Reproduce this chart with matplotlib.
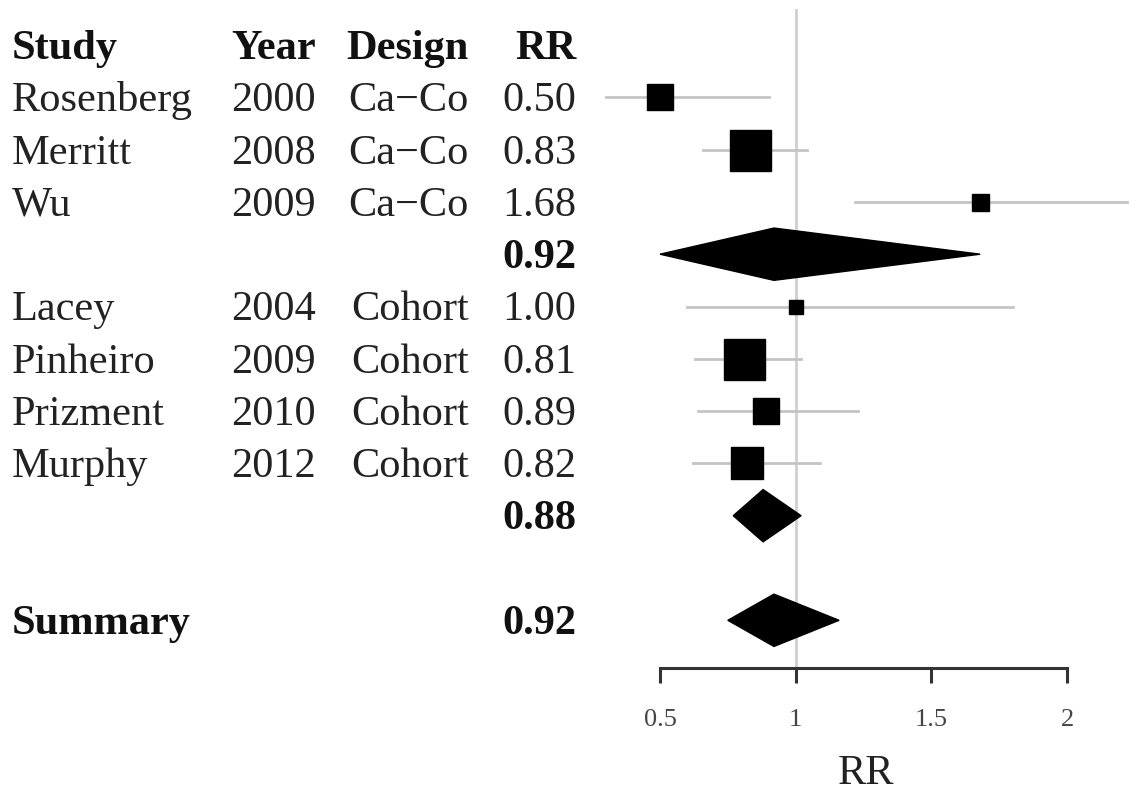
import matplotlib

matplotlib.use("Agg")
import matplotlib.pyplot as plt  # noqa: E402
from matplotlib.transforms import blended_transform_factory  # noqa: E402

studies = ["Rosenberg", "Merritt", "Wu", "Lacey", "Pinheiro", "Prizment", "Murphy"]
years = ["2000", "2008", "2009", "2004", "2009", "2010", "2012"]
designs = ["Ca\u2212Co", "Ca\u2212Co", "Ca\u2212Co", "Cohort", "Cohort", "Cohort", "Cohort"]
rr = [0.50, 0.83, 1.68, 1.00, 0.81, 0.89, 0.82]
ci_low = [0.30, 0.66, 1.22, 0.60, 0.63, 0.64, 0.62]
ci_high = [0.90, 1.04, 2.22, 1.80, 1.02, 1.23, 1.09]
weights = [27, 41, 17, 14, 41, 27, 32]

# pooled estimates: (label, estimate, lower, upper)
sub_labels = ["0.92", "0.88", "0.92"]
sub_rr = [0.92, 0.88, 0.92]
sub_low = [0.50, 0.77, 0.75]
sub_high = [1.68, 1.02, 1.16]

study_rows = [1, 2, 3, 5, 6, 7, 8]
sub_rows = [4, 9, 11]

FONT = "Liberation Serif"
BIG = 30.5
DY = 0.07  # text sits a touch below the row centre

fig = plt.figure(figsize=(11.35, 7.93), dpi=100)
ax = fig.add_axes([0, 0, 1, 1])
px_per_unit = 407 / 1.5
ax.set_xlim(0.5 - 660 / px_per_unit, 0.5 + 475 / px_per_unit)
row_h = 52.3
ax.set_ylim((793 - 45) / row_h, -45 / row_h)

# reference line at RR = 1
ax.plot([1, 1], [(10 - 45) / row_h, 11.91], color="#d2d2d2", lw=2.2, zorder=1)

for row, est, lo, hi, w in zip(study_rows, rr, ci_low, ci_high, weights):
    ax.plot([lo, hi], [row, row], color="#c4c4c4", lw=2.0, zorder=2)
    ax.plot(est, row, marker="s", color="black", markersize=w * 0.72, zorder=3)

for row, est, lo, hi in zip(sub_rows, sub_rr, sub_low, sub_high):
    ax.fill([lo, est, hi, est], [row, row - 0.5, row, row + 0.5], color="black", zorder=3)

# axis
for side in ["top", "right", "left"]:
    ax.spines[side].set_visible(False)
ax.spines["bottom"].set_position(("data", 11.91))
ax.spines["bottom"].set_bounds(0.5, 2)
ax.spines["bottom"].set_color("#333333")
ax.spines["bottom"].set_linewidth(2.2)
ax.set_yticks([])
ax.set_xticks([0.5, 1, 1.5, 2])
ax.set_xticklabels(["0.5", "1", "1.5", "2"])
ax.tick_params(axis="x", direction="out", length=10.5, width=2.2, color="#333333",
               pad=19, labelsize=19, labelcolor="#444444")
for lab in ax.get_xticklabels():
    lab.set_fontfamily(FONT)
ax.text(1.26, 13.93, "RR", ha="center", va="center", fontsize=BIG, family=FONT, color="#222222")

# table columns
tr = blended_transform_factory(ax.transAxes, ax.transData)
cols = [(12 / 1135, "left"), (231 / 1135, "left"), (469 / 1135, "right"), (576 / 1135, "right")]
headers = ["Study", "Year", "Design", "RR"]
for (x, ha), h in zip(cols, headers):
    ax.text(x, DY, h, transform=tr, ha=ha, va="center", fontsize=BIG, family=FONT,
            fontweight="bold", color="#111111")

for row, name, yr, des, est in zip(study_rows, studies, years, designs, rr):
    for (x, ha), s in zip(cols, [name, yr, des, f"{est:.2f}"]):
        ax.text(x, row + DY, s, transform=tr, ha=ha, va="center", fontsize=BIG, family=FONT,
                color="#222222")

for row, lab in zip(sub_rows, sub_labels):
    ax.text(cols[3][0], row + DY, lab, transform=tr, ha="right", va="center", fontsize=BIG,
            family=FONT, fontweight="bold", color="#111111")
ax.text(cols[0][0], sub_rows[-1] + DY, "Summary", transform=tr, ha="left", va="center",
        fontsize=BIG, family=FONT, fontweight="bold", color="#111111")

fig.savefig("out.png", dpi=100)
